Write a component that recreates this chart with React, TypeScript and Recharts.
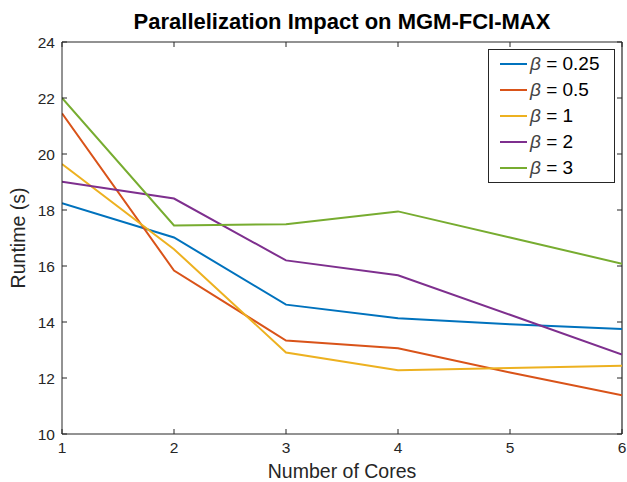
import React from 'react';
import { LineChart, Line, XAxis, YAxis, Label, ReferenceLine } from 'recharts';

const cores = [1, 2, 3, 4, 5, 6];
const beta025 = [18.24, 17.02, 14.62, 14.13, 13.92, 13.75];
const beta05 = [21.45, 15.84, 13.34, 13.06, 12.2, 11.38];
const beta1 = [19.64, 16.6, 12.91, 12.28, 12.36, 12.44];
const beta2 = [19.01, 18.41, 16.2, 15.67, 14.26, 12.84];
const beta3 = [22.0, 17.45, 17.49, 17.95, 17.02, 16.08];

const xTicks = [1, 2, 3, 4, 5, 6];
const yTicks = [10, 12, 14, 16, 18, 20, 22, 24];

const series = [
  { key: 'b025', label: '0.25', values: beta025, color: '#0072BD' },
  { key: 'b05', label: '0.5', values: beta05, color: '#D95319' },
  { key: 'b1', label: '1', values: beta1, color: '#EDB120' },
  { key: 'b2', label: '2', values: beta2, color: '#7E2F8E' },
  { key: 'b3', label: '3', values: beta3, color: '#77AC30' },
];

const data = cores.map((c, i) => {
  const row: Record<string, number> = { cores: c };
  series.forEach((s) => {
    row[s.key] = s.values[i];
  });
  return row;
});

const font = '"Liberation Sans", Arial, Helvetica, sans-serif';
const ink = '#262626';

// plot box edges, used for the mirrored ticks on top and right
const PLOT_TOP = 42;
const PLOT_RIGHT = 622;

function XTick(props: any) {
  const { x, y, payload } = props;
  return (
    <g>
      <line x1={x} x2={x} y1={PLOT_TOP} y2={PLOT_TOP + 5} stroke={ink} />
      <text
        x={x}
        y={y}
        dy="0.71em"
        textAnchor="middle"
        fill={ink}
        fontSize={15.5}
        fontFamily={font}
      >
        {payload.value}
      </text>
    </g>
  );
}

function YTick(props: any) {
  const { x, y, payload } = props;
  return (
    <g>
      <line x1={PLOT_RIGHT - 5} x2={PLOT_RIGHT} y1={y} y2={y} stroke={ink} />
      <text
        x={x}
        y={y}
        dy="0.355em"
        textAnchor="end"
        fill={ink}
        fontSize={15.5}
        fontFamily={font}
      >
        {payload.value}
      </text>
    </g>
  );
}

function LegendBox() {
  return (
    <div
      style={{
        position: 'absolute',
        left: 488,
        top: 49,
        width: 127,
        height: 134,
        border: `1px solid ${ink}`,
        background: '#fff',
        boxSizing: 'border-box',
        paddingTop: 1,
        fontFamily: font,
        fontSize: 19,
        color: '#000',
      }}
    >
      {series.map((s) => (
        <div
          key={s.key}
          style={{ display: 'flex', alignItems: 'center', height: 26 }}
        >
          <div
            style={{
              width: 27,
              height: 2,
              background: s.color,
              marginLeft: 11,
              marginRight: 3,
            }}
          />
          <span>
            <span style={{ fontStyle: 'italic', color: '#444' }}>β</span> = {s.label}
          </span>
        </div>
      ))}
    </div>
  );
}

export default function App() {
  return (
    <div
      style={{
        position: 'absolute',
        left: 0,
        top: 0,
        width: 627,
        height: 482,
        background: '#fff',
        fontFamily: font,
      }}
    >
      <div
        style={{
          position: 'absolute',
          left: 62,
          width: 560,
          top: 9,
          lineHeight: '26px',
          textAlign: 'center',
          fontWeight: 'bold',
          fontSize: 22,
          color: '#000',
        }}
      >
        Parallelization Impact on MGM-FCI-MAX
      </div>
      <LineChart
        width={627}
        height={482}
        data={data}
        margin={{ top: PLOT_TOP, right: 627 - PLOT_RIGHT, bottom: 0, left: 0 }}
      >
        <XAxis
          dataKey="cores"
          type="number"
          domain={[1, 6]}
          ticks={xTicks}
          height={48}
          stroke={ink}
          tickSize={-5}
          tickMargin={13}
          tick={<XTick />}
          allowDataOverflow
        >
          <Label
            value="Number of Cores"
            position="insideBottom"
            offset={4}
            style={{ fill: ink, fontSize: 19.5, fontFamily: font }}
          />
        </XAxis>
        <YAxis
          type="number"
          domain={[10, 24]}
          ticks={yTicks}
          width={62}
          stroke={ink}
          tickSize={-5}
          tickMargin={12}
          tick={<YTick />}
          allowDataOverflow
        >
          <Label
            value="Runtime (s)"
            angle={-90}
            position="insideLeft"
            offset={18}
            style={{ fill: ink, fontSize: 19.5, fontFamily: font, textAnchor: 'middle' }}
          />
        </YAxis>
        <ReferenceLine y={24} stroke={ink} strokeWidth={1.2} />
        <ReferenceLine x={6} stroke={ink} strokeWidth={1.2} />
        {series.map((s) => (
          <Line
            key={s.key}
            dataKey={s.key}
            type="linear"
            stroke={s.color}
            strokeWidth={2}
            dot={false}
            activeDot={false}
            isAnimationActive={false}
          />
        ))}
      </LineChart>
      <LegendBox />
    </div>
  );
}
